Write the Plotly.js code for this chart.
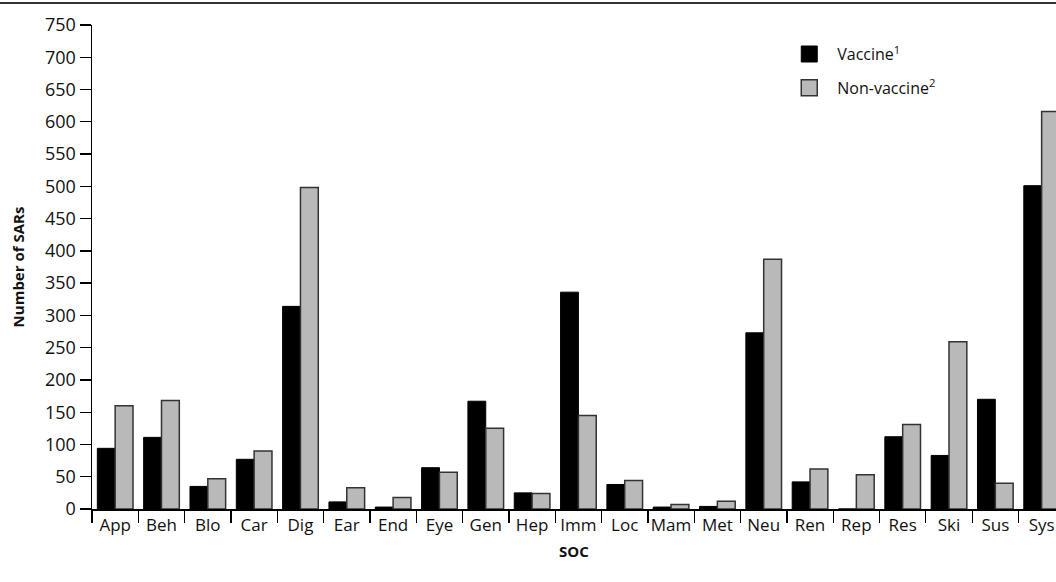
<!DOCTYPE html>
<html>
<head>
<meta charset="utf-8">
<script src="https://cdn.plot.ly/plotly-3.0.1.min.js"></script>
<style>
html,body{margin:0;padding:0;background:#fff;overflow:hidden;}
#chart{width:1056px;height:582px;}
</style>
</head>
<body>
<div id="chart"></div>
<script>
var categories = ["App","Beh","Blo","Car","Dig","Ear","End","Eye","Gen","Hep","Imm","Loc","Mam","Met","Neu","Ren","Rep","Res","Ski","Sus","Sys"];
var vaccine    = [94, 111, 35, 77, 314, 11, 3, 64, 167, 25, 336, 38, 3, 4, 273, 42, 0, 112, 83, 170, 501];
var nonVaccine = [160, 168, 47, 90, 498, 33, 18, 57, 125, 24, 145, 44, 7, 12, 387, 62, 53, 131, 259, 40, 616];
var yTicks = [0,50,100,150,200,250,300,350,400,450,500,550,600,650,700,750];

var FONT = "'Open Sans', 'Noto Sans', sans-serif";
var GRAY = "#b9b9b9";

var traces = [
  {type:"bar", name:"Vaccine<sup>1</sup>", x:categories, y:vaccine,
   marker:{color:"#000000", line:{color:"#000000", width:1}}, showlegend:false, hoverinfo:"x+y"},
  {type:"bar", name:"Non-vaccine<sup>2</sup>", x:categories, y:nonVaccine,
   marker:{color:GRAY, line:{color:"#333333", width:1.5}}, showlegend:false, hoverinfo:"x+y"},
  {type:"scatter", mode:"markers", name:"Vaccine<sup>1</sup>", x:[null], y:[null], legendgroup:"a",
   marker:{symbol:"square", size:16, color:"#000000", line:{color:"#000000", width:1}}},
  {type:"scatter", mode:"markers", name:"Non-vaccine<sup>2</sup>", x:[null], y:[null], legendgroup:"b",
   marker:{symbol:"square", size:16, color:GRAY, line:{color:"#333333", width:1.5}}}
];

var layout = {
  width:1056, height:582,
  margin:{l:92, r:0, t:25, b:73, pad:0},
  paper_bgcolor:"#ffffff", plot_bgcolor:"#ffffff",
  font:{family:FONT, size:18, color:"#111111"},
  barmode:"group", bargap:0.23, bargroupgap:0,
  xaxis:{
    type:"category", range:[-0.5, 20.31], fixedrange:true,
    showline:true, linecolor:"#000", linewidth:1.5,
    ticks:"outside", ticklen:12, tickwidth:1.3, tickcolor:"#000", tickson:"boundaries",
    tickangle:0,
    showgrid:false, zeroline:false,
    tickfont:{family:FONT, size:17, color:"#111"},
    title:{text:"<b>SOC</b>", font:{family:FONT, size:15, color:"#111"}, standoff:11}
  },
  yaxis:{
    range:[0,750], tickvals:yTicks, ticktext:yTicks.map(String), fixedrange:true,
    showline:true, linecolor:"#000", linewidth:1.5,
    ticks:"outside", ticklen:11, tickwidth:1.3, tickcolor:"#000",
    showgrid:false, zeroline:false,
    tickfont:{family:FONT, size:18, color:"#111"},
    title:{text:"<b>Number of SARs</b>", font:{family:FONT, size:15, color:"#111"}, standoff:17}
  },
  legend:{
    x:0.715, y:0.975, xanchor:"left", yanchor:"top",
    bgcolor:"rgba(0,0,0,0)", borderwidth:0,
    font:{family:FONT, size:16, color:"#111"},
    itemwidth:46, traceorder:"grouped", tracegroupgap:10
  },
  shapes:[
    {type:"line", xref:"paper", yref:"paper", x0:-0.1, x1:1.0, y0:1.0455, y1:1.0455,
     line:{color:"#333333", width:1.8}}
  ]
};

Plotly.newPlot("chart", traces, layout, {displayModeBar:false, staticPlot:true});
</script>
</body>
</html>
